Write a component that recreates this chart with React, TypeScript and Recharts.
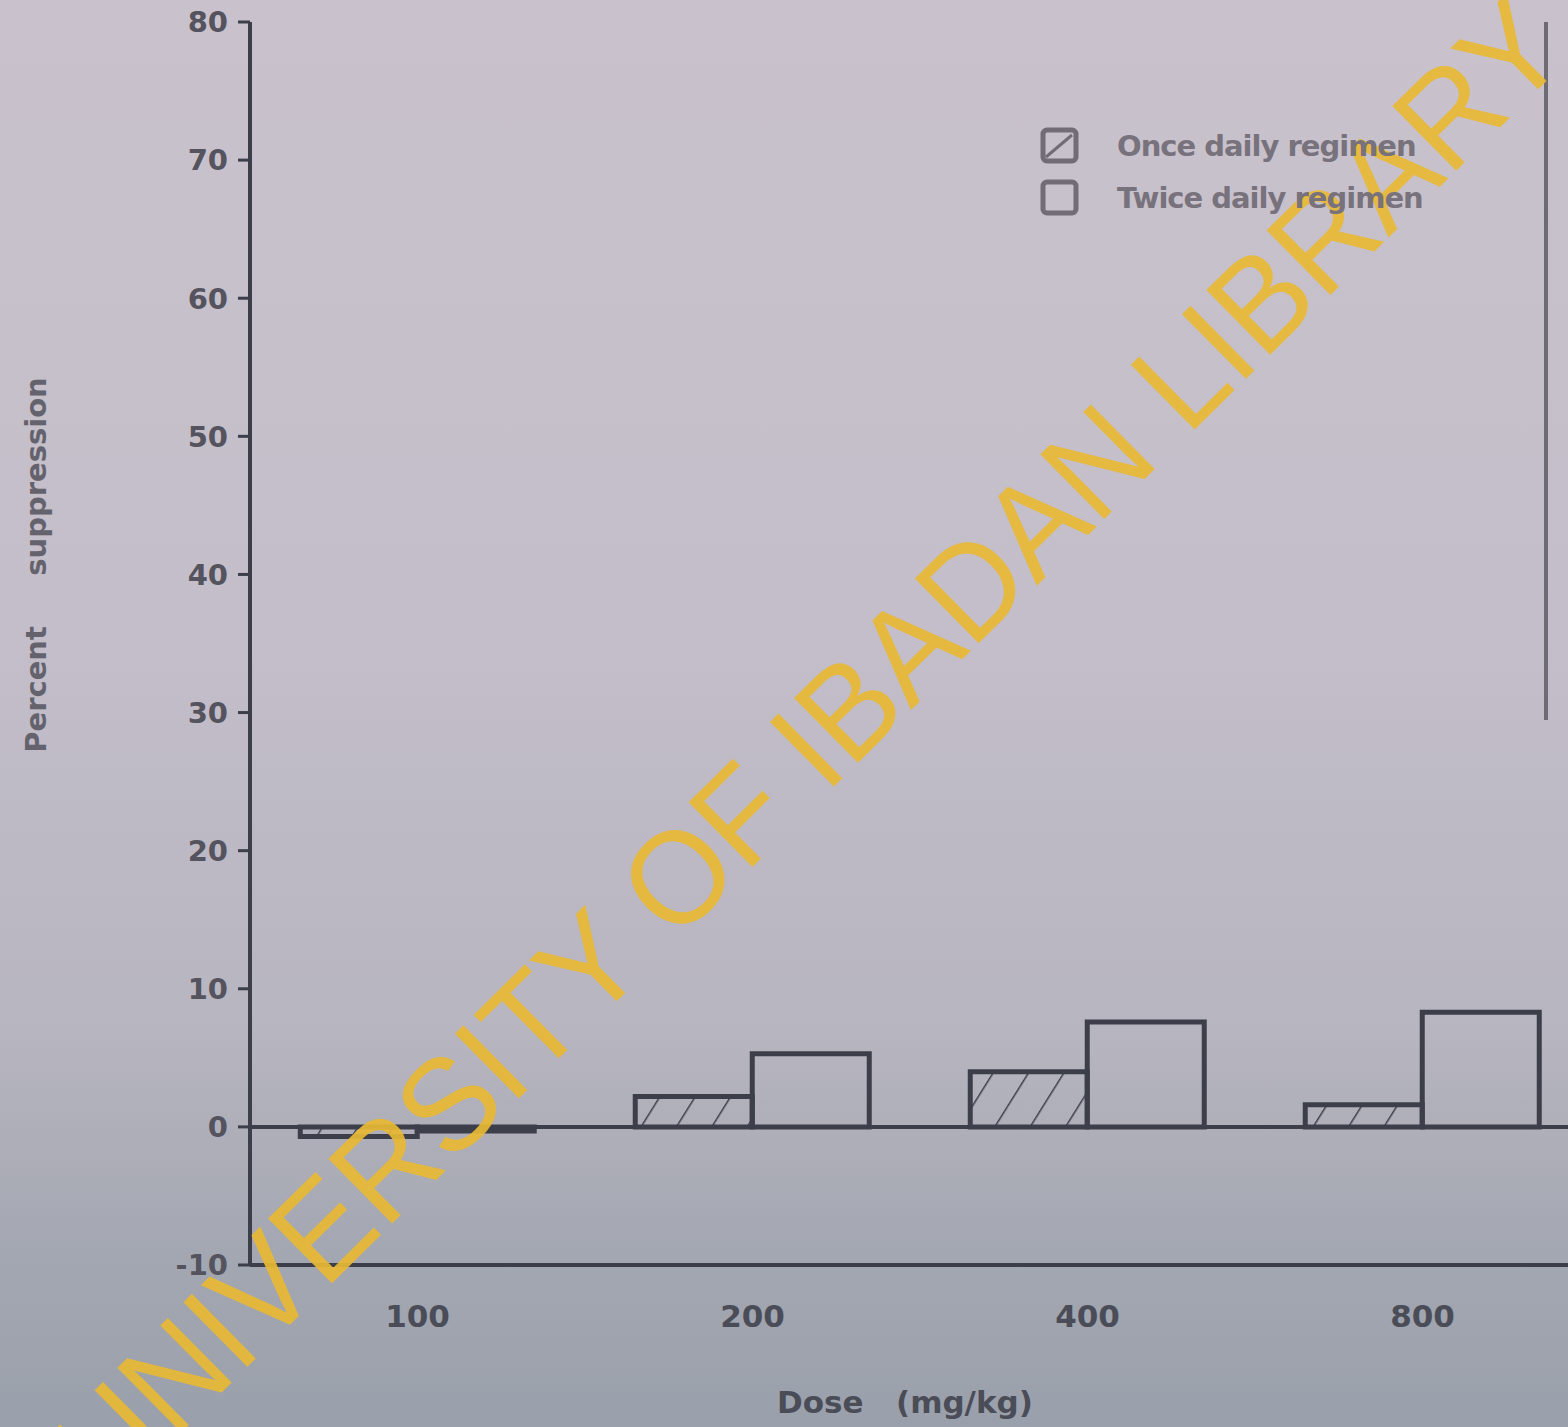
import React from 'react';
import { BarChart, Bar, XAxis, YAxis, ReferenceLine } from 'recharts';

const doses = ['100', '200', '400', '800'];
const onceDaily = [-0.7, 2.2, 4.0, 1.6];
const twiceDaily = [-0.3, 5.3, 7.6, 8.3];
const yTicks = [-10, 0, 10, 20, 30, 40, 50, 60, 70, 80];

const data = doses.map((d, i) => ({ dose: d, once: onceDaily[i], twice: twiceDaily[i] }));

const INK = '#3c3f4a';
const FONT = '"DejaVu Sans", Verdana, sans-serif';

const LegendBox = () => (
  <div style={{ position: 'absolute', left: 1040, top: 126, fontFamily: FONT, fontSize: 29, fontWeight: 'bold', color: '#77727c', letterSpacing: -1 }}>
    <div style={{ display: 'flex', alignItems: 'center', height: 40 }}>
      <svg width={40} height={38}>
        <rect x={3} y={3} width={33} height={31} rx={4} fill="none" stroke="#716c76" strokeWidth={5} />
        <line x1={6} y1={30} x2={32} y2={8} stroke="#716c76" strokeWidth={3} />
      </svg>
      <span style={{ marginLeft: 37 }}>Once daily regimen</span>
    </div>
    <div style={{ display: 'flex', alignItems: 'center', height: 40, marginTop: 12 }}>
      <svg width={40} height={38}>
        <rect x={3} y={3} width={33} height={31} rx={4} fill="none" stroke="#716c76" strokeWidth={5} />
      </svg>
      <span style={{ marginLeft: 37 }}>Twice daily regimen</span>
    </div>
  </div>
);

export default function App() {
  return (
    <div
      style={{
        position: 'absolute',
        left: 0,
        top: 0,
        width: 1568,
        height: 1427,
        overflow: 'hidden',
        background: 'linear-gradient(180deg, #c9c2cc 0%, #c3bec9 45%, #b7b5c0 72%, #a3a7b1 88%, #9aa0ab 100%)',
      }}
    >
      <BarChart
        width={1590}
        height={1427}
        data={data}
        margin={{ top: 22, right: 0, bottom: 0, left: 0 }}
        barGap={0}
        barCategoryGap="15%"
      >
        <defs>
          <pattern id="hatch" patternUnits="userSpaceOnUse" width={30} height={30} patternTransform="rotate(32)">
            <line x1={0} y1={0} x2={0} y2={30} stroke={INK} strokeWidth={3} />
          </pattern>
        </defs>
        <XAxis
          dataKey="dose"
          height={162}
          axisLine={{ stroke: INK, strokeWidth: 4 }}
          tickLine={false}
          tick={{ fill: '#4a4d57', fontSize: 31, fontFamily: FONT, fontWeight: 'bold' }}
          tickMargin={34}
        />
        <XAxis xAxisId="top" dataKey="dose" orientation="top" height={0} tick={false} tickLine={false} axisLine={{ stroke: INK, strokeWidth: 4 }} />
        <YAxis
          width={250}
          domain={[-10, 80]}
          ticks={yTicks}
          interval={0}
          axisLine={{ stroke: INK, strokeWidth: 4 }}
          tickLine={{ stroke: INK, strokeWidth: 3 }}
          tickSize={12}
          tickMargin={10}
          tick={{ fill: '#54535e', fontSize: 29, fontFamily: FONT, fontWeight: 'bold' }}
        />
        <ReferenceLine y={0} stroke={INK} strokeWidth={4} />
        <Bar dataKey="once" fill="url(#hatch)" stroke={INK} strokeWidth={5} isAnimationActive={false} />
        <Bar dataKey="twice" fill="none" stroke={INK} strokeWidth={5} isAnimationActive={false} />
      </BarChart>

      <svg width={1568} height={1427} style={{ position: 'absolute', left: 0, top: 0, pointerEvents: 'none' }}>
        <line x1={1546} y1={22} x2={1546} y2={720} stroke="#6e6b74" strokeWidth={4} />
        <text
          x={38}
          y={565}
          transform="rotate(-90 38 565)"
          textAnchor="middle"
          dominantBaseline="middle"
          fontFamily={FONT}
          fontSize={29}
          fontWeight="bold"
          fill="#64626c"
          xmlSpace="preserve"
          style={{ whiteSpace: 'pre' }}
        >
          {'Percent     suppression'}
        </text>
        <text
          x={905}
          y={1404}
          textAnchor="middle"
          dominantBaseline="middle"
          fontFamily={FONT}
          fontSize={31}
          fontWeight="bold"
          fill="#4a4d57"
          xmlSpace="preserve"
          style={{ whiteSpace: 'pre' }}
        >
          {'Dose   (mg/kg)'}
        </text>
        <text
          x={816}
          y={755}
          transform="rotate(-44.7 816 755)"
          textAnchor="middle"
          dominantBaseline="middle"
          fontFamily='"Liberation Sans", Arial, sans-serif'
          fontSize={132}
          fill="#e8b934"
          fillOpacity={0.92}
          textLength={2060}
          lengthAdjust="spacingAndGlyphs"
        >
          UNIVERSITY OF IBADAN LIBRARY
        </text>
      </svg>
      <LegendBox />
    </div>
  );
}
